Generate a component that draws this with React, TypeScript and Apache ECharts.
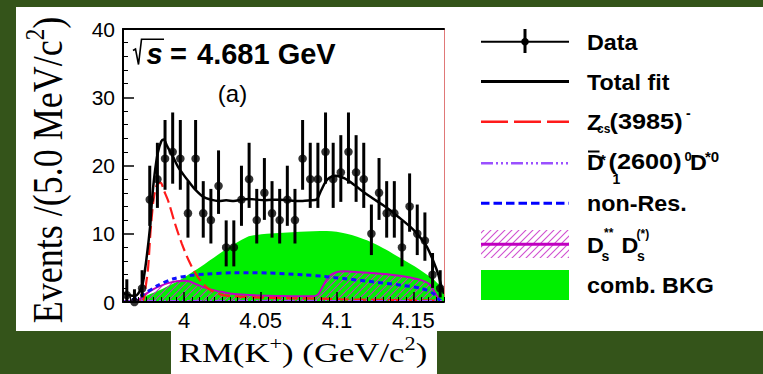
import React, { useEffect, useRef } from 'react';
import * as echarts from 'echarts';

// ---------- data ----------
const BIN_LO = 3.96;
const BIN_W = 0.005;
const counts = [1, 0, 2, 15, 18, 21, 22, 21, 13, 21, 13, 12, 17, 8, 8, 15, 18, 12, 16, 13, 12, 15, 12, 21, 18, 18, 22, 18, 19, 22, 19, 18, 10, 16, 13, 13, 8, 14, 10, 9, 4, 2];

const xLabelValues = [4, 4.05, 4.1, 4.15];

const totalFit: [number, number][] = [
  [3.96, 1.3], [3.964, 1.0], [3.968, 0.9], [3.971, 1.6], [3.973, 2.8], [3.9755, 6.6], [3.9777, 11], [3.979, 15],
  [3.9805, 18.4], [3.9827, 21.8], [3.985, 23.5], [3.9865, 23.8], [3.989, 22.8], [3.9929, 21.2], [3.996, 19.8],
  [3.9994, 18.7], [4.0035, 17.5], [4.0071, 16.5], [4.0125, 15.4], [4.0175, 15.0], [4.0225, 14.8], [4.0275, 14.9],
  [4.0325, 14.8], [4.0375, 15.0], [4.0425, 15.1], [4.0475, 15.0], [4.0525, 14.9], [4.0575, 15.0], [4.0625, 15.0],
  [4.0675, 14.9], [4.0725, 14.8], [4.0775, 14.8], [4.0825, 14.9], [4.0865, 15.0], [4.0895, 16.3], [4.0925, 17.6],
  [4.095, 18.2], [4.099, 18.5], [4.105, 18.1], [4.1117, 17.1], [4.118, 16.0], [4.124, 15.1], [4.13, 14.2],
  [4.135, 13.4], [4.14, 12.5], [4.148, 11.0], [4.152, 10.1], [4.156, 9.0], [4.159, 8.0], [4.163, 6.0],
  [4.1663, 4.0], [4.1684, 2.2], [4.17, 1.2],
];

const zcs: [number, number][] = [
  [3.97, 0], [3.9733, 0.3], [3.975, 2.5], [3.9765, 5.2], [3.9779, 10], [3.98, 15], [3.9822, 17.2], [3.9845, 17.5],
  [3.987, 16.2], [3.9896, 14.8], [3.994, 11.5], [3.9984, 8.6], [4.0038, 5.7], [4.0104, 3.2], [4.0169, 1.8],
  [4.0254, 1.0], [4.0365, 0.8], [4.05, 0.65], [4.07, 0.55], [4.088, 0.5], [4.1, 0.4], [4.13, 0.3], [4.165, 0.2],
];

const combBkg: [number, number][] = [
  [3.962, 0], [3.965, 0.2], [3.973, 0.7], [3.9929, 2.7], [4.0104, 5.1], [4.0278, 7.8], [4.0409, 9.5], [4.047, 9.8],
  [4.054, 10.0], [4.0758, 10.3], [4.0932, 10.4], [4.1063, 10.0], [4.12, 9.0], [4.13, 7.9], [4.138, 6.9],
  [4.151, 5.2], [4.162, 3.5], [4.1684, 2.2], [4.17, 2.0],
];

const nonRes: [number, number][] = [
  [3.966, 0.3], [3.9725, 1.0], [3.9825, 2.4], [3.993, 3.4], [4.0045, 3.9], [4.015, 4.1], [4.033, 4.3], [4.055, 4.25],
  [4.077, 4.0], [4.092, 3.75], [4.098, 3.6], [4.12, 3.05], [4.142, 2.45], [4.155, 2.0], [4.163, 1.25],
  [4.166, 0.5], [4.168, 0.2],
];

const dsds: [number, number][] = [
  [3.965, 0], [3.97, 0.3], [3.975, 1.2], [3.98, 1.9], [3.985, 2.4], [3.99, 2.8], [3.995, 3.05], [4.0, 3.1],
  [4.005, 2.9], [4.01, 2.4], [4.015, 2.0], [4.02, 1.7], [4.025, 1.45], [4.03, 1.25], [4.04, 1.05], [4.05, 0.95],
  [4.06, 0.88], [4.07, 0.85], [4.08, 0.85], [4.086, 0.9], [4.088, 1.2], [4.091, 2.4], [4.095, 3.8], [4.1, 4.4],
  [4.105, 4.5], [4.115, 4.35], [4.125, 4.2], [4.135, 4.0], [4.145, 3.7], [4.155, 3.2], [4.16, 2.7], [4.163, 1.8],
  [4.165, 1.0], [4.167, 0.3], [4.168, 0],
];

const d1star: [number, number][] = [[3.96, 0.1], [4.17, 0.1]];

// ---------- styles ----------
const SANS = '"Liberation Sans", Arial, Helvetica, sans-serif';
const SERIF = '"Liberation Serif", "Times New Roman", serif';
const BG = '#34541a';

function makeHatch(color: string, size: number, lw: number) {
  const c = document.createElement('canvas');
  c.width = size;
  c.height = size;
  const ctx = c.getContext('2d')!;
  ctx.strokeStyle = color;
  ctx.lineWidth = lw;
  ctx.beginPath();
  ctx.moveTo(0, size);
  ctx.lineTo(size, 0);
  ctx.moveTo(-1, 1);
  ctx.lineTo(1, -1);
  ctx.moveTo(size - 1, size + 1);
  ctx.lineTo(size + 1, size - 1);
  ctx.stroke();
  return c;
}

function txt(x: number, y: number, text: string, size: number, opt: any = {}) {
  return {
    type: 'text',
    x,
    y,
    scaleX: opt.sx ?? 1,
    scaleY: opt.sy ?? 1,
    rotation: opt.rot ?? 0,
    z: 100,
    style: {
      text,
      fontSize: size,
      fontFamily: opt.ff ?? SANS,
      fontWeight: opt.fw ?? 'bold',
      fontStyle: opt.fs ?? 'normal',
      fill: '#000',
      align: opt.align ?? 'left',
      textAlign: opt.align ?? 'left',
      verticalAlign: 'middle',
      textVerticalAlign: 'middle',
      lineHeight: opt.lh,
      rich: opt.rich,
    },
  };
}

function seg(x1: number, y1: number, x2: number, y2: number, stroke: string, lineWidth: number, lineDash?: number[]) {
  return {
    type: 'line',
    z: 100,
    shape: { x1, y1, x2, y2 },
    style: { stroke, lineWidth, lineDash },
  };
}

export default function App() {
  const ref = useRef<HTMLDivElement>(null);
  useEffect(() => {
    document.body.style.margin = '0';
    const chart = echarts.init(ref.current!, null, { renderer: 'svg' });
    const hatchPlot = makeHatch('#c030c0', 7, 1.1);
    const hatchLeg = makeHatch('#d050d0', 7, 1.1);

    const points = counts.map((n, i) => [BIN_LO + (i + 0.5) * BIN_W, n]);
    const errs = counts.map((n, i) => [
      BIN_LO + (i + 0.5) * BIN_W,
      n > 0 ? n - Math.sqrt(n - 0.25) : 0,
      n + 1 + Math.sqrt(n + 0.75),
    ]);

    const LX0 = 481, LX1 = 569, TX = 587, SX = 1.06;

    const graphics: any[] = [
      { type: 'rect', z: -1, shape: { x: 16, y: 7, width: 747, height: 324 }, style: { fill: '#fff' } },
      { type: 'rect', z: -1, shape: { x: 171, y: 331, width: 266, height: 43 }, style: { fill: '#fff' } },
      // sqrt(s) label
      {
        type: 'polyline', z: 100,
        shape: { points: [[133, 50.5], [135.5, 49], [138.5, 64.5], [141.5, 39.3], [164, 39.3]] },
        style: { stroke: '#000', lineWidth: 1.6, fill: null },
      },
      txt(146.5, 53.5, 's', 29, { fs: 'italic' }),
      txt(170, 53.5, '=', 29),
      txt(197, 53.5, '4.681 GeV', 29),
      txt(232.5, 93, '(a)', 24, { fw: 'normal', align: 'center' }),
      // axis titles
      txt(48, 170, 'Events /(5.0 MeV/c{sup|2})', 36, {
        ff: SERIF, fw: 'normal', align: 'center', rot: Math.PI / 2, sy: 1.18, lh: 46,
        rich: { sup: { fontSize: 23, lineHeight: 23, fontFamily: SERIF, verticalAlign: 'top' } },
      }),
      txt(303, 353, 'RM(K{sup|+}) (GeV/c{sup|2})', 28, {
        ff: SERIF, fw: 'normal', align: 'center', sx: 1.24, lh: 36,
        rich: { sup: { fontSize: 18, lineHeight: 18, fontFamily: SERIF, verticalAlign: 'top' } },
      }),
      // legend: Data
      seg(LX0, 41.7, LX1, 41.7, '#000', 2),
      seg(525, 29, 525, 53, '#000', 3),
      { type: 'circle', z: 100, shape: { cx: 525, cy: 41.7, r: 3.8 }, style: { fill: '#000' } },
      txt(TX, 42, 'Data', 22, { sx: SX }),
      // Total fit
      seg(LX0, 81.5, LX1, 81.5, '#000', 3),
      txt(TX, 82, 'Total fit', 22, { sx: SX }),
      // Zcs
      seg(LX0, 121.7, LX1, 121.7, '#ff1a1a', 2.5, [27, 6]),
      txt(TX, 122, 'Z', 22, { sx: SX }),
      txt(597, 129, 'cs', 12),
      txt(609.5, 122, '(3985)', 22, { sx: 1.15 }),
      txt(686, 113, '-', 14),
      // D1*
      seg(LX0, 163.3, LX1, 163.3, '#9a50ff', 2.5, [12, 3, 2, 3, 2, 3, 2, 3]),
      txt(TX, 162, 'D', 22, { sx: SX }),
      seg(588, 151.5, 599.5, 151.5, '#000', 2),
      txt(600, 159, '*', 15),
      txt(612.5, 178.5, '1', 14),
      txt(608.5, 162, '(2600)', 22, { sx: 1.15 }),
      txt(684.5, 156, '0', 13),
      txt(690, 162, 'D', 22, { sx: SX }),
      txt(705, 156.5, '*0', 15),
      // non-Res
      seg(LX0, 203.3, LX1, 203.3, '#0000ff', 3, [8.5, 4]),
      txt(TX, 203, 'non-Res.', 22, { sx: SX }),
      // Ds** Ds(*)
      { type: 'rect', z: 99, shape: { x: LX0, y: 230, width: LX1 - LX0, height: 28 }, style: { fill: { image: hatchLeg, repeat: 'repeat' } } },
      seg(LX0, 244.3, LX1, 244.3, '#c000c0', 3),
      txt(TX, 245.5, 'D', 22, { sx: SX }),
      txt(601.5, 256, 's', 14),
      txt(604, 233, '**', 12),
      txt(621.5, 245.5, 'D', 22, { sx: SX }),
      txt(637, 256, 's', 14),
      txt(636.5, 234, '(*)', 12),
      // comb BKG
      { type: 'rect', z: 99, shape: { x: LX0, y: 270, width: LX1 - LX0, height: 30 }, style: { fill: '#00f000' } },
      txt(TX, 285, 'comb. BKG', 22, { sx: SX }),
    ];

    const option: any = {
      animation: false,
      backgroundColor: BG,
      grid: { left: 123, top: 29, width: 321, height: 273, containLabel: false, outerBoundsMode: 'none' },
      xAxis: [
        {
          type: 'value', min: 3.96, max: 4.17, position: 'bottom', z: 10,
          axisLine: { show: true, onZero: false, lineStyle: { color: '#000', width: 2 } },
          axisTick: { show: true, inside: true, length: 10, customValues: xLabelValues, lineStyle: { color: '#000', width: 1.5 } },
          axisLabel: { show: true, customValues: xLabelValues, margin: 7, color: '#000', fontSize: 22, fontFamily: SANS },
          splitLine: { show: false },
        },
        {
          type: 'value', min: 3.96, max: 4.17, interval: 0.005, position: 'bottom', z: 10,
          axisLine: { show: false, onZero: false },
          axisTick: { show: true, inside: true, length: 5, lineStyle: { color: '#000', width: 1 } },
          axisLabel: { show: false },
          splitLine: { show: false },
        },
        {
          type: 'value', min: 3.96, max: 4.17, position: 'top', z: 10,
          axisLine: { show: true, onZero: false, lineStyle: { color: '#000', width: 2 } },
          axisTick: { show: false }, axisLabel: { show: false }, splitLine: { show: false },
        },
      ],
      yAxis: [
        {
          type: 'value', min: 0, max: 40, interval: 10, position: 'left', z: 10,
          axisLine: { show: true, onZero: false, lineStyle: { color: '#000', width: 2 } },
          axisTick: { show: true, inside: true, length: 11, lineStyle: { color: '#000', width: 1.5 } },
          minorTick: { show: true, splitNumber: 5, length: 5, lineStyle: { color: '#000', width: 1 } },
          axisLabel: { margin: 8, color: '#000', fontSize: 21, fontFamily: SANS },
          splitLine: { show: false }, minorSplitLine: { show: false },
        },
        {
          type: 'value', min: 0, max: 40, position: 'right', z: 10,
          axisLine: { show: true, onZero: false, lineStyle: { color: '#e07878', width: 1 } },
          axisTick: { show: false }, axisLabel: { show: false }, splitLine: { show: false },
        },
      ],
      series: [
        {
          name: 'comb. BKG', type: 'line', data: combBkg, smooth: 0.3, showSymbol: false, z: 1,
          lineStyle: { width: 0, color: '#00f000' }, areaStyle: { color: '#00f000', opacity: 1 },
        },
        {
          name: 'Ds** Ds(*)', type: 'line', data: dsds, smooth: 0.2, showSymbol: false, z: 2,
          lineStyle: { width: 2, color: '#c000c0' },
          areaStyle: { color: { image: hatchPlot, repeat: 'repeat' }, opacity: 1 },
        },
        {
          name: 'Zcs(3985)-', type: 'line', data: zcs, smooth: 0.3, showSymbol: false, z: 3,
          lineStyle: { width: 2.2, color: '#ff1a1a', type: [12, 5] },
        },
        {
          name: 'non-Res.', type: 'line', data: nonRes, smooth: 0.3, showSymbol: false, z: 4,
          lineStyle: { width: 3, color: '#1010ff', type: [5, 4] },
        },
        {
          name: 'D1*(2600)0 D*0', type: 'line', data: d1star, showSymbol: false, z: 4,
          lineStyle: { width: 2.5, color: '#9a50ff', type: [10, 3, 2, 3, 2, 3] },
        },
        {
          name: 'Total fit', type: 'line', data: totalFit, smooth: 0.3, showSymbol: false, z: 5,
          lineStyle: { width: 2.5, color: '#000' },
        },
        {
          name: 'errors', type: 'custom', data: errs, z: 6,
          renderItem: (params: any, api: any) => {
            const x = api.value(0);
            const p1 = api.coord([x, api.value(1)]);
            const p2 = api.coord([x, api.value(2)]);
            return {
              type: 'line',
              shape: { x1: p1[0], y1: p1[1], x2: p2[0], y2: p2[1] },
              style: { stroke: '#000', lineWidth: 3 },
            };
          },
        },
        {
          name: 'Data', type: 'scatter', data: points, symbol: 'circle', symbolSize: 8.5, z: 7,
          itemStyle: { color: '#000' },
        },
      ],
      graphic: { elements: graphics },
    };
    chart.setOption(option);
    return () => chart.dispose();
  }, []);
  return <div ref={ref} style={{ width: 763, height: 374 }} />;
}
